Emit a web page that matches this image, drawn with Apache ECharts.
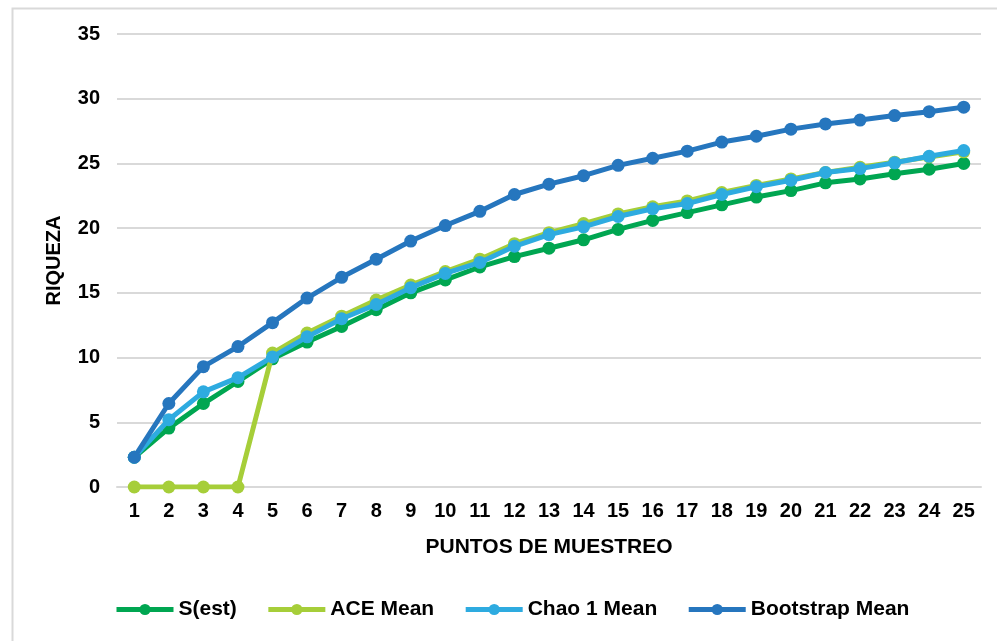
<!DOCTYPE html>
<html>
<head>
<meta charset="utf-8">
<script src="https://cdn.jsdelivr.net/npm/echarts@6/dist/echarts.min.js"></script>
<style>html,body{margin:0;padding:0;background:#fff;}#c{width:997px;height:641px;}</style>
</head>
<body>
<div id="c"></div>
<script>
const categories = ['1','2','3','4','5','6','7','8','9','10','11','12','13','14','15','16','17','18','19','20','21','22','23','24','25'];
const sEst = [2.3, 4.55, 6.45, 8.15, 9.9, 11.2, 12.4, 13.7, 15.0, 16.0, 17.0, 17.8, 18.45, 19.1, 19.9, 20.6, 21.2, 21.8, 22.4, 22.9, 23.5, 23.8, 24.2, 24.55, 25.0];
const aceMean = [0, 0, 0, 0, 10.35, 11.9, 13.2, 14.45, 15.6, 16.65, 17.6, 18.8, 19.65, 20.35, 21.1, 21.65, 22.1, 22.75, 23.3, 23.8, 24.3, 24.7, 25.1, 25.5, 25.9];
const chao1Mean = [2.3, 5.2, 7.35, 8.45, 10.05, 11.6, 13.0, 14.1, 15.4, 16.5, 17.35, 18.6, 19.5, 20.1, 20.9, 21.5, 21.9, 22.6, 23.2, 23.7, 24.3, 24.6, 25.05, 25.55, 26.0];
const bootstrapMean = [2.3, 6.45, 9.3, 10.85, 12.7, 14.6, 16.2, 17.6, 19.0, 20.2, 21.3, 22.6, 23.4, 24.05, 24.85, 25.4, 25.95, 26.65, 27.1, 27.65, 28.05, 28.35, 28.7, 29.0, 29.35];
const seriesNames = ['S(est)', 'ACE Mean', 'Chao 1 Mean', 'Bootstrap Mean'];
const yTicks = { min: 0, max: 35, interval: 5 };

const FONT = '"Liberation Sans", Arial, sans-serif';
const colors = ['#00A651', '#A6CE39', '#2EABE0', '#2676BE'];
const dataSets = [sEst, aceMean, chao1Mean, bootstrapMean];

const chart = echarts.init(document.getElementById('c'));
chart.setOption({
  animation: false,
  backgroundColor: '#fff',
  color: colors,
  graphic: [{
    type: 'rect', left: 10, top: 6, silent: true,
    shape: { x: 0, y: 0, width: 1000, height: 700 },
    style: { fill: 'none', stroke: '#d9d9d9', lineWidth: 2 }
  }],
  grid: { left: 117, right: 16, top: 34, bottom: 154 },
  legend: {
    bottom: 16, left: 109,
    itemWidth: 57, itemHeight: 14, itemGap: 29,
    lineStyle: { width: 5 },
    textStyle: { fontFamily: FONT, fontWeight: 'bold', fontSize: 21, color: '#000' },
    data: seriesNames
  },
  xAxis: {
    type: 'category', data: categories, boundaryGap: true,
    name: 'PUNTOS DE MUESTREO', nameLocation: 'middle', nameGap: 50,
    nameTextStyle: { fontFamily: FONT, fontWeight: 'bold', fontSize: 21, color: '#000' },
    axisLine: { lineStyle: { color: '#d9d9d9', width: 2 } },
    axisTick: { show: false },
    axisLabel: { fontFamily: FONT, fontWeight: 'bold', fontSize: 20, color: '#000', margin: 14, interval: 0 }
  },
  yAxis: {
    type: 'value', min: yTicks.min, max: yTicks.max, interval: yTicks.interval,
    name: 'RIQUEZA', nameLocation: 'middle', nameGap: 53, nameRotate: 90,
    nameTextStyle: { fontFamily: FONT, fontWeight: 'bold', fontSize: 20, color: '#000' },
    axisLine: { show: false },
    axisTick: { show: false },
    axisLabel: { fontFamily: FONT, fontWeight: 'bold', fontSize: 20, color: '#000', margin: 17 },
    splitLine: { lineStyle: { color: '#d9d9d9', width: 2 } }
  },
  series: seriesNames.map((n, i) => ({
    name: n, type: 'line', data: dataSets[i],
    symbol: 'circle', symbolSize: 13,
    lineStyle: { width: 5, color: colors[i] },
    itemStyle: { color: colors[i] },
    z: 2 + i
  }))
});
</script>
</body>
</html>
